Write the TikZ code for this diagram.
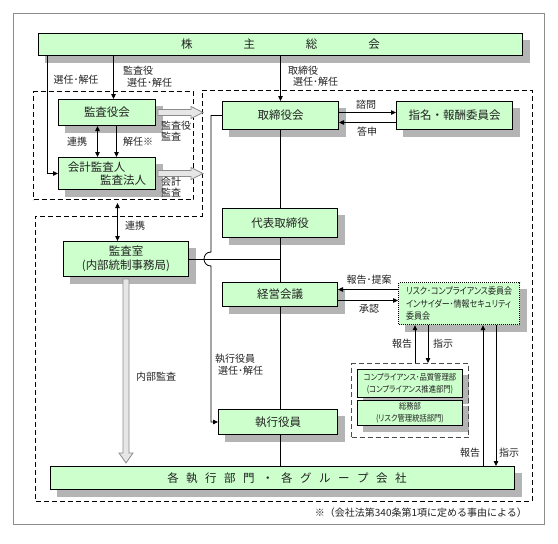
\documentclass[tikz,border=0pt]{standalone}
\usepackage{fontspec}
\setmainfont{Noto Sans CJK JP}
\newfontfamily\jpn{Noto Sans CJK JP}[RawFeature=+palt, FakeStretch=0.86]
\usetikzlibrary{arrows.meta,calc}
\definecolor{boxgreen}{HTML}{CCFFCC}
\definecolor{framegray}{HTML}{8C8C8C}
\definecolor{txt}{HTML}{222222}
\definecolor{shadowcol}{HTML}{B4B4B4}
\definecolor{hollowfill}{HTML}{E6E6E6}
\definecolor{hollowdraw}{HTML}{8C8C8C}
\newcommand\kgap{\hspace{7.5pt}}
\begin{document}
\begin{tikzpicture}[x=1pt,y=-1pt,
  box/.style={draw=black, line width=1pt, fill=boxgreen,
    inner sep=0pt, anchor=north west, align=center, text=txt,
    font=\fontsize{11.5}{14}\selectfont},
  smallbox/.style={box, font=\jpn\fontsize{8.5}{11.5}\selectfont},
  shadownode/.style={fill=shadowcol, draw=shadowcol, line width=0.5pt, anchor=north west, inner sep=0pt, outer sep=0pt},
  grpbox/.style={draw=black, line width=1pt, dash pattern=on 5pt off 3pt, anchor=north west, inner sep=0pt},
  dashline/.style={draw=black, line width=1pt, dash pattern=on 5pt off 3pt},
  lbl/.style={inner sep=0pt, text=txt, font=\fontsize{10}{11.5}\selectfont, align=left},
  arr/.style={-{Triangle[length=5pt,width=4.5pt]}, line width=0.8pt},
  dbl/.style={{Triangle[length=5pt,width=4.5pt]}-{Triangle[length=5pt,width=4.5pt]}, line width=0.8pt},
  thinline/.style={line width=0.8pt},
  spine/.style={line width=1.6pt},
  hollow/.style={fill=hollowfill, draw=hollowdraw, line width=0.8pt, line join=miter}
]
\useasboundingbox (0,0) rectangle (558,544);
\draw[framegray, line width=1pt] (13,13) rectangle (544,524);

% shadows (as filled nodes, offset 7)
\node[shadownode, minimum width=484pt, minimum height=22pt] (skabu) at (45,40) {};
\node[shadownode, minimum width=97pt, minimum height=26pt] (skansayaku) at (65,106) {};
\node[shadownode, minimum width=97pt, minimum height=32pt] (skaikei) at (65,164) {};
\node[shadownode, minimum width=116pt, minimum height=28pt] (stori) at (229,108) {};
\node[shadownode, minimum width=116pt, minimum height=28pt] (sshimei) at (403,108) {};
\node[shadownode, minimum width=115pt, minimum height=29pt] (sdaihyo) at (229,215) {};
\node[shadownode, minimum width=115pt, minimum height=24pt] (skeiei) at (229,289) {};
\node[shadownode, minimum width=119pt, minimum height=25pt] (sshikko) at (225,416) {};
\node[shadownode, minimum width=125pt, minimum height=35pt] (skansa) at (70,248) {};
\node[shadownode, minimum width=464pt, minimum height=23pt] (skaku) at (57,473) {};
\node[shadownode, minimum width=121pt, minimum height=42pt] (srisk) at (405,289) {};
\node[shadownode, minimum width=105pt, minimum height=28pt] (scomp) at (363,375) {};
\node[shadownode, minimum width=105pt, minimum height=25pt] (ssomu) at (363,406) {};

% dashed groups
\node[grpbox, minimum width=160pt, minimum height=108pt] (kgroup) at (33,91) {};
\draw[dashline] (202,90) -- (532,90) -- (532,501) -- (35,501) -- (35,216) -- (202,216) -- cycle;
\node[grpbox, draw=black!70, minimum width=117pt, minimum height=74pt] (cgroup) at (351,363) {};

% boxes
\node[box, minimum width=484pt, minimum height=22pt] (kabu) at (38,33) {株\hspace{51pt}主\hspace{51pt}総\hspace{51pt}会};
\node[box, minimum width=97pt, minimum height=26pt] (kansayaku) at (58,99) {監査役会};
\node[box, minimum width=97pt, minimum height=32pt, align=left, font=\fontsize{11.5}{12.5}\selectfont] (kaikei) at (58,157) {会計監査人\\\hspace*{2.8em}監査法人};
\node[box, minimum width=116pt, minimum height=28pt] (tori) at (222,101) {取締役会};
\node[box, minimum width=116pt, minimum height=28pt] (shimei) at (396,101) {指名・報酬委員会};
\node[box, minimum width=115pt, minimum height=29pt] (daihyo) at (222,208) {代表取締役};
\node[box, minimum width=115pt, minimum height=24pt] (keiei) at (222,282) {経営会議};
\node[box, minimum width=119pt, minimum height=25pt] (shikko) at (218,409) {執行役員};
\node[box, minimum width=125pt, minimum height=35pt] (kansa) at (63,241) {監査室\\(内部統制事務局)};
\node[box, minimum width=464pt, minimum height=23pt] (kaku) at (50,466) {\hspace*{9pt}各\kgap 執\kgap 行\kgap 部\kgap 門\kgap ・\kgap 各\kgap グ\kgap ル\kgap ー\kgap プ\kgap 会\kgap 社};
\node[box, dash pattern=on 1pt off 1pt, line width=1.2pt, minimum width=121pt, minimum height=42pt, align=left, font=\jpn\fontsize{9.3}{12.5}\selectfont] (risk) at (398,282) {リスク･コンプライアンス委員会\\インサイダー･情報セキュリティ\\委員会};
\node[smallbox, minimum width=105pt, minimum height=28pt] (comp) at (357,369) {コンプライアンス･品質管理部\\(コンプライアンス推進部門)};
\node[smallbox, minimum width=105pt, minimum height=25pt] (somu) at (357,400) {総務部\\(リスク管理統括部門)};

% connectors from shareholders
\coordinate (a1) at ($(kabu.south west)+(9,0)$);
\draw[arr] (a1) |- (kaikei.west);
\coordinate (a2) at ($(kansayaku.north)+(6.5,0)$);
\draw[arr] (a2 |- kabu.south) -- (a2);
\draw[arr] (kabu.south -| tori.north) -- (tori.north);

% audit board <-> accounting auditor
\draw[dbl] ($(kansayaku.south)+(-9.5,0)$) -- ($(kaikei.north)+(-9.5,0)$);
\draw[arr] ($(kansayaku.south)+(9.5,0)$) -- ($(kaikei.north)+(9.5,0)$);

% hollow arrows to board
\draw[hollow] ($(kansayaku.east)+(2,-3)$) -- ++(33,0) -- ++(0,-3) -- ++(12,6) -- ++(-12,6) -- ++(0,-3) -- ++(-33,0) -- cycle;
\draw[hollow] ($(kaikei.east)+(2,-3)$) -- ++(33,0) -- ++(0,-3) -- ++(12,6) -- ++(-12,6) -- ++(0,-3) -- ++(-33,0) -- cycle;

% board <-> nomination committee
\draw[arr] ($(tori.east)+(0,-3)$) -- ($(shimei.west)+(0,-3)$);
\draw[arr] ($(shimei.west)+(0,7)$) -- ($(tori.east)+(0,7)$);

% spine
\draw[spine] (tori.south) -- (daihyo.north -| tori.south);
\draw[spine] (daihyo.south -| tori.south) -- (keiei.north -| tori.south);
\draw[spine] (keiei.south -| tori.south) -- (shikko.north -| tori.south);
\draw[spine] (shikko.south -| tori.south) -- (kaku.north -| tori.south);

% audit office line to spine
\draw[thinline] (kansa.east) -- (kansa.east -| tori.south);

% board -> executive officers (with hop)
\coordinate (v1) at ($(tori.west)+(-11,0)$);
\draw[arr] (tori.west) -- (v1) -- ($(v1 |- kansa.east)+(0,-7)$) .. controls +(-9.3,0) and +(-9.3,0) .. ($(v1 |- kansa.east)+(0,7)$) -- (v1 |- shikko.west) -- (shikko.west);

% audit office <-> audit group
\coordinate (r1) at ($(kansa.north)+(-8.5,0)$);
\draw[dbl] ($(r1 |- kgroup.south)+(0,3)$) -- (r1);

% internal audit hollow arrow
\coordinate (h1) at ($(kaku.north -| kansa.south)+(0,-3)$);
\draw[hollow] ($(kansa.south)+(-3,2)$) -- ($(h1)+(-3,-10)$) -- ($(h1)+(-7,-10)$) -- (h1) -- ($(h1)+(7,-10)$) -- ($(h1)+(3,-10)$) -- ($(kansa.south)+(3,2)$) -- cycle;

% management meeting <-> risk committee
\coordinate (k1) at ($(keiei.east)+(0,-5)$);
\coordinate (k2) at ($(keiei.east)+(0,6)$);
\draw[arr] (risk.west |- k1) -- (k1);
\draw[arr] (k2) -- (risk.west |- k2);

% risk committee <-> compliance group
\coordinate (m1) at ($(risk.south west)+(17,0)$);
\coordinate (m2) at ($(risk.south west)+(30,0)$);
\draw[arr] (m1 |- cgroup.north) -- (m1);
\draw[arr] (m2) -- (m2 |- cgroup.north);

% risk committee <-> divisions
\coordinate (m3) at ($(risk.south west)+(85,0)$);
\coordinate (m4) at ($(risk.south west)+(98,0)$);
\draw[arr] (m3 |- kaku.north) -- (m3);
\draw[arr] (m4) -- (m4 |- kaku.north);

% labels
\node[lbl] (l1) at (76,80) {選任･解任};
\node[lbl, anchor=west] (l2) at (123,76.5) {監査役\\\hspace*{0.4em}選任･解任};
\node[lbl, anchor=west] (l3) at (288,76) {取締役\\\hspace*{0.5em}選任･解任};
\node[lbl] (l4) at (77,142) {連携};
\node[lbl] (l5) at (138,142) {解任※};
\node[lbl, anchor=west] (l6) at (161,131) {監査役\\監査};
\node[lbl, anchor=west] (l7) at (161,187) {会計\\監査};
\node[lbl] (l8) at (366,105) {諮問};
\node[lbl] (l9) at (367,132) {答申};
\node[lbl] (l10) at (135,226) {連携};
\node[lbl] (l11) at (156,377) {内部監査};
\node[lbl, anchor=west] (l12) at (215,364.5) {執行役員\\\hspace*{0.3em}選任･解任};
\node[lbl] (l13) at (369,280) {報告･提案};
\node[lbl] (l14) at (369,309) {承認};
\node[lbl] (l15) at (402,344) {報告};
\node[lbl] (l16) at (443,344) {指示};
\node[lbl] (l17) at (470,453) {報告};
\node[lbl] (l18) at (509,453) {指示};
\node[lbl, anchor=east] (l19) at (527,513) {※（会社法第340条第1項に定める事由による）};
\end{tikzpicture}
\end{document}
